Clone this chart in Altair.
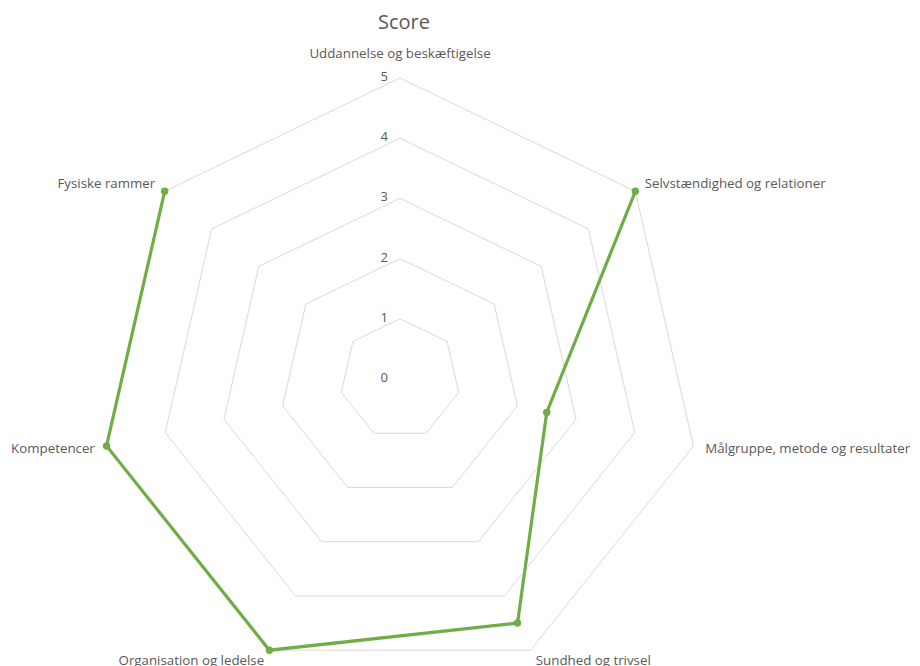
import math
import altair as alt
import pandas as pd

categories = [
    "Uddannelse og beskæftigelse",
    "Selvstændighed og relationer",
    "Målgruppe, metode og resultater",
    "Sundhed og trivsel",
    "Organisation og ledelse",
    "Kompetencer",
    "Fysiske rammer",
]
scores = [None, 5, 2.5, 4.5, 5, 5, 5]
levels = [1, 2, 3, 4, 5]
tick_labels = ["0", "1", "2", "3", "4", "5"]

N = len(categories)
PX = 60.2  # pixels per score unit
W, H = 904, 610
CX, CY = 392, 331  # centre offset inside plot area (from left, from top)
FONT = "Open Sans"
GREY = "#595959"

xdom = [-CX / PX, (W - CX) / PX]
ydom = [-(H - CY) / PX, CY / PX]
xs = alt.Scale(domain=xdom, nice=False, zero=False)
ys = alt.Scale(domain=ydom, nice=False, zero=False)
noax = None

ang = "2*PI*datum.k/%d" % N

# grid polygons
grid_rows = [{"level": l, "k": k % N, "ord": k} for l in levels for k in range(N + 1)]
grid = (
    alt.Chart(pd.DataFrame(grid_rows))
    .transform_calculate(
        gx="datum.level*sin(%s)" % ang, gy="datum.level*cos(%s)" % ang
    )
    .mark_line(color="#d9d9d9", strokeWidth=1)
    .encode(
        x=alt.X("gx:Q", scale=xs, axis=noax),
        y=alt.Y("gy:Q", scale=ys, axis=noax),
        detail="level:N",
        order="ord:Q",
    )
)

# tick labels
ticks = (
    alt.Chart(pd.DataFrame({"lab": tick_labels, "v": list(range(len(tick_labels)))}))
    .transform_calculate(zero="0")
    .mark_text(align="right", baseline="middle", dx=-12, dy=-1, font=FONT, fontSize=13, color=GREY)
    .encode(
        x=alt.X("zero:Q", scale=xs, axis=noax),
        y=alt.Y("v:Q", scale=ys, axis=noax),
        text="lab:N",
    )
)

df = pd.DataFrame({"cat": categories, "score": scores, "k": list(range(N))})
base = alt.Chart(df).transform_calculate(
    px="datum.score == null ? null : datum.score*sin(%s)" % ang,
    py="datum.score == null ? null : datum.score*cos(%s)" % ang,
)
line = (
    base.transform_filter("datum.score != null")
    .mark_line(color="#70ad47", strokeWidth=3.2)
    .encode(
        x=alt.X("px:Q", scale=xs, axis=noax),
        y=alt.Y("py:Q", scale=ys, axis=noax),
        order="k:Q",
    )
)
pts = (
    base.transform_filter("datum.score != null")
    .mark_point(filled=True, color="#70ad47", size=55, opacity=1)
    .encode(
        x=alt.X("px:Q", scale=xs, axis=noax),
        y=alt.Y("py:Q", scale=ys, axis=noax),
    )
)

lab_base = alt.Chart(df).transform_calculate(
    lr="datum.k == 0 ? 5.4 : 5.2",
    s="sin(%s)" % ang,
    c="cos(%s)" % ang,
).transform_calculate(
    lx="datum.lr*datum.s", ly="datum.lr*datum.c"
)
lab_common = dict(baseline="middle", font=FONT, fontSize=13.3, color=GREY)
lab_left = lab_base.transform_filter("datum.s > 0.01").mark_text(align="left", **lab_common)
lab_right = lab_base.transform_filter("datum.s < -0.01").mark_text(align="right", **lab_common)
lab_mid = lab_base.transform_filter("abs(datum.s) <= 0.01").mark_text(align="center", **lab_common)
labels = [
    m.encode(
        x=alt.X("lx:Q", scale=xs, axis=noax),
        y=alt.Y("ly:Q", scale=ys, axis=noax),
        text="cat:N",
    )
    for m in (lab_left, lab_right, lab_mid)
]

chart = (
    alt.layer(grid, ticks, line, pts, *labels)
    .properties(
        width=W,
        height=H,
        padding={"left": 0, "top": 40, "right": 0, "bottom": 30},
        autosize=alt.AutoSizeParams(type="none"),
        title=alt.TitleParams(
            "Score", anchor="middle", font=FONT, fontSize=20, fontWeight="normal",
            color=GREY, offset=14, dx=-56,
        ),
    )
    .configure_view(stroke=None)
    .configure_axis(grid=False)
)

chart.save("out.html", embed_options={"renderer": "svg", "actions": False})
